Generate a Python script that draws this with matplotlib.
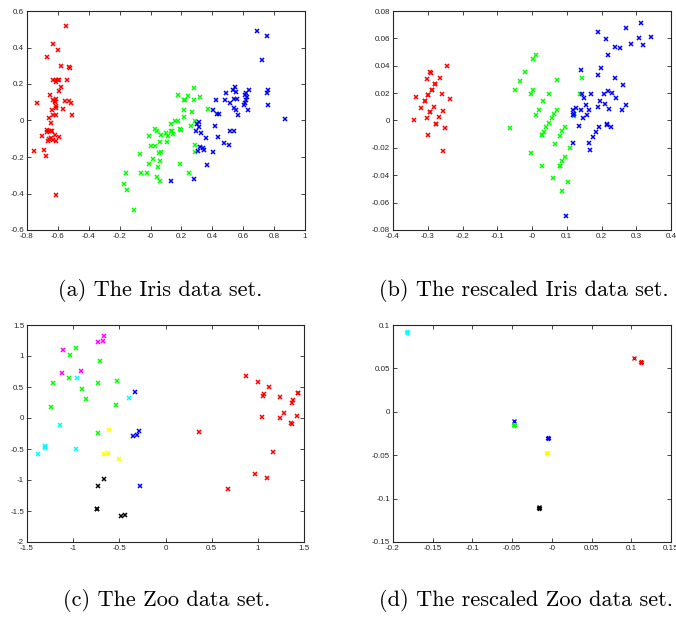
import numpy as np
import matplotlib
matplotlib.use("Agg")
import matplotlib.pyplot as plt

# ---- (a) Iris, PCA coordinates ----
iris_red_x = [-0.55, -0.63, -0.60, -0.67, -0.58, -0.53, -0.52, -0.63, -0.61, -0.60, -0.59, -0.54,
              -0.61, -0.58, -0.59, -0.65, -0.735, -0.63, -0.61, -0.62, -0.555, -0.53, -0.515,
              -0.615, -0.61, -0.64, -0.565, -0.51, -0.63, -0.61, -0.655, -0.645, -0.67, -0.657,
              -0.67, -0.635, -0.645, -0.705, -0.62, -0.59, -0.66, -0.645, -0.63, -0.61, -0.665,
              -0.69, -0.755, -0.68, -0.61, -0.62]
iris_red_y = [0.52, 0.42, 0.385, 0.35, 0.30, 0.295, 0.29, 0.22, 0.22, 0.22, 0.22, 0.22,
              0.21, 0.185, 0.16, 0.14, 0.095, 0.11, 0.12, 0.105, 0.105, 0.105, 0.095,
              0.08, 0.07, 0.055, 0.065, 0.03, 0.03, 0.03, 0.015, -0.015, -0.05, -0.055,
              -0.065, -0.055, -0.06, -0.085, -0.08, -0.09, -0.10, -0.095, -0.105, -0.11, -0.11,
              -0.16, -0.165, -0.195, -0.41, 0.10]
iris_green_x = [-0.11, -0.175, -0.155, -0.16, -0.06, -0.025, 0.04, 0.06, -0.01, 0.045, 0.06,
                0.015, -0.07, 0.055, 0.07, 0.0, 0.03, 0.06, 0.105, -0.01, 0.03, 0.04, 0.07,
                0.10, 0.11, 0.13, 0.145, 0.135, 0.16, 0.175, 0.19, 0.195, 0.19, 0.25, 0.18,
                0.215, 0.24, 0.28, 0.32, 0.28, 0.215, 0.215, 0.27, 0.37, 0.26, 0.29, 0.285,
                0.285, 0.22, 0.14]
iris_green_y = [-0.49, -0.35, -0.38, -0.29, -0.29, -0.29, -0.31, -0.33, -0.24, -0.255, -0.22,
                -0.21, -0.185, -0.18, -0.17, -0.14, -0.14, -0.12, -0.12, -0.085, -0.045, -0.055,
                -0.08, -0.07, -0.085, -0.055, -0.075, -0.02, 0.0, -0.005, -0.045, -0.05, -0.24,
                -0.29, 0.14, 0.11, 0.135, 0.18, 0.13, 0.11, 0.06, 0.02, 0.045, 0.065, -0.03,
                0.0, -0.135, -0.17, 0.11, -0.06]
iris_blue_x = [0.69, 0.752, 0.722, 0.871, 0.763, 0.752, 0.759, 0.638, 0.618, 0.612, 0.623, 0.616,
               0.612, 0.608, 0.633, 0.547, 0.532, 0.55, 0.491, 0.485, 0.541, 0.558, 0.515,
               0.424, 0.407, 0.43, 0.446, 0.543, 0.552, 0.565, 0.515, 0.543, 0.418, 0.315, 0.30,
               0.315, 0.293, 0.327, 0.358, 0.437, 0.476, 0.51, 0.321, 0.342, 0.349, 0.306, 0.407,
               0.364, 0.135, 0.28]
iris_blue_y = [0.49, 0.463, 0.333, 0.007, 0.165, 0.152, 0.085, 0.165, 0.152, 0.14, 0.127, 0.112,
               0.098, 0.085, 0.058, 0.185, 0.167, 0.158, 0.149, 0.112, 0.12, 0.12, 0.098,
               0.112, 0.058, 0.034, 0.036, 0.067, 0.058, 0.028, -0.056, -0.056, -0.03, -0.006, -0.019,
               -0.034, -0.059, -0.07, -0.096, -0.089, -0.123, -0.134, -0.143, -0.152, -0.162, -0.165,
               -0.173, -0.244, -0.331, -0.32]

# ---- (b) Iris, rescaled ----
riris_red_x = [-0.245, -0.292, -0.294, -0.265, -0.303, -0.278, -0.278, -0.287, -0.287, -0.26,
               -0.235, -0.335, -0.298, -0.298, -0.307, -0.307, -0.319, -0.283, -0.256, -0.294,
               -0.294, -0.267, -0.303, -0.34, -0.277, -0.277, -0.251, -0.298, -0.256]
riris_red_y = [0.040, 0.035, 0.0355, 0.031, 0.0305, 0.027, 0.027, 0.0225, 0.0225, 0.0193,
               0.0158, 0.017, 0.0183, 0.0183, 0.014, 0.014, 0.0094, 0.0102, 0.0071, 0.0059,
               0.0059, 0.0024, 0.0015, 0.0002, -0.0022, -0.0022, -0.0053, -0.0109, -0.0222]
riris_green_x = [0.011, 0.004, -0.019, -0.035, -0.05, 0.004, -0.004, 0.071, 0.144, 0.049, 0.033,
                 0.019, 0.012, 0.072, 0.064, 0.057, 0.049, 0.041, 0.035, 0.028, -0.062, 0.095,
                 0.087, 0.080, 0.065, 0.11, 0.095, 0.087, 0.080, 0.028, -0.004, 0.059, 0.104,
                 0.087, 0.121, 0.121, 0.138, 0.080, 0.028]
riris_green_y = [0.0482, 0.045, 0.0357, 0.029, 0.0225, 0.0226, 0.0194, 0.0298, 0.0308, 0.0197,
                 0.014, 0.0077, 0.0043, 0.0077, 0.0046, 0.0017, -0.0017, -0.0046, -0.0083,
                 -0.0108, -0.0053, -0.0046, -0.0075, -0.0111, -0.0172, -0.02, -0.0265, -0.0297,
                 -0.0329, -0.0331, -0.024, -0.0422, -0.045, -0.0514, 0.0045, 0.0035, 0.0193,
                 -0.0329, -0.0108]
riris_blue_x = [0.314, 0.343, 0.307, 0.318, 0.284, 0.270, 0.189, 0.214, 0.239, 0.253, 0.219,
                0.142, 0.199, 0.189, 0.238, 0.263, 0.171, 0.144, 0.150, 0.218, 0.229, 0.207,
                0.242, 0.197, 0.211, 0.154, 0.128, 0.189, 0.222, 0.270, 0.259, 0.118, 0.141,
                0.165, 0.122, 0.119, 0.157, 0.147, 0.136, 0.194, 0.216, 0.215, 0.228, 0.184,
                0.175, 0.164, 0.167, 0.119, 0.097]
riris_blue_y = [0.0714, 0.061, 0.060, 0.0555, 0.0562, 0.0675, 0.065, 0.0595, 0.054, 0.053, 0.0478,
                0.0372, 0.0382, 0.0335, 0.031, 0.0262, 0.0194, 0.0196, 0.0168, 0.0218, 0.020, 0.019,
                0.0168, 0.0142, 0.0123, 0.011, 0.009, 0.0095, 0.0085, 0.011, 0.0077, 0.0077, 0.0075,
                0.008, 0.0047, 0.004, 0.0037, 0.0016, -0.004, -0.0045, -0.0025, -0.0033, -0.0048,
                -0.0081, -0.0117, -0.0162, -0.0218, -0.0167, -0.070]

# ---- (c) Zoo, PCA coordinates ----
zoo_magenta_x = [-0.664, -0.675, -0.726, -1.11, -1.124, -0.92]
zoo_magenta_y = [1.33, 1.24, 1.225, 1.095, 0.72, 0.76]
zoo_green_x = [-0.967, -1.03, -0.712, -1.044, -1.219, -0.73, -0.52, -0.905, -0.858, -1.24,
               -0.54, -0.734]
zoo_green_y = [1.13, 1.02, 0.925, 0.65, 0.562, 0.558, 0.594, 0.463, 0.31, 0.183, 0.215, -0.248]
zoo_cyan_x = [-0.956, -0.394, -1.14, -1.30, -1.31, -1.31, -1.385, -0.97]
zoo_cyan_y = [0.64, 0.33, -0.106, -0.45, -0.48, -0.47, -0.585, -0.505]
zoo_blue_x = [-0.328, -0.29, -0.354, -0.31, -0.28]
zoo_blue_y = [0.42, -0.205, -0.29, -0.27, -1.10]
zoo_yellow_x = [-0.61, -0.67, -0.62, -0.504]
zoo_yellow_y = [-0.19, -0.585, -0.565, -0.654]
zoo_black_x = [-0.665, -0.73, -0.746, -0.746, -0.484, -0.44]
zoo_black_y = [-0.99, -1.10, -1.465, -1.475, -1.586, -1.564]
zoo_red_x = [0.868, 1.005, 1.125, 1.063, 1.052, 1.244, 1.435, 1.43, 1.377, 1.367, 1.049, 1.244,
             1.287, 1.42, 1.359, 1.365, 1.16, 0.965, 1.095, 0.672, 0.36]
zoo_red_y = [0.685, 0.58, 0.495, 0.39, 0.353, 0.342, 0.40, 0.41, 0.294, 0.247, 0.01, 0.005,
             0.073, 0.025, -0.08, -0.09, -0.55, -0.91, -0.96, -1.15, -0.23]

# ---- (d) Zoo, rescaled ----
rzoo_x = [-0.183, 0.104, 0.112, -0.0475, -0.048, -0.0046, -0.0063, -0.0168, -0.0168]
rzoo_y = [0.0925, 0.0624, 0.0575, -0.011, -0.0148, -0.030, -0.0475, -0.1095, -0.111]
rzoo_c = ['c', 'r', 'r', 'b', 'g', 'b', 'y', 'b', 'k']
rzoo_bold = [True, False, True, False, True, True, True, False, True]

captions = ['(a) The Iris data set.', '(b) The rescaled Iris data set.',
            '(c) The Zoo data set.', '(d) The rescaled Zoo data set.']

# MATLAB-style pure colours
COLORS = {'r': (1, 0, 0), 'g': (0, 1, 0), 'b': (0, 0, 1), 'c': (0, 1, 1),
          'm': (1, 0, 1), 'y': (1, 1, 0), 'k': (0, 0, 0)}

W, H = 676, 617
fig = plt.figure(figsize=(W / 100, H / 100), dpi=100)


def make_ax(left, top, right, bottom):
    ax = fig.add_axes([left / W, 1 - bottom / H, (right - left) / W, (bottom - top) / H])
    ax.tick_params(direction='in', top=True, right=True, length=3, width=0.6,
                   labelsize=5.8, colors='#262626', pad=2)
    for s in ax.spines.values():
        s.set_linewidth(0.8)
        s.set_color('#262626')
    return ax


def pts(ax, x, y, c, lw=1.1):
    ax.plot(x, y, 'x', color=COLORS[c], markersize=3.3, markeredgewidth=lw)


ax_a = make_ax(27, 11, 305, 230)
pts(ax_a, iris_red_x, iris_red_y, 'r')
pts(ax_a, iris_green_x, iris_green_y, 'g')
pts(ax_a, iris_blue_x, iris_blue_y, 'b')
ax_a.set_xlim(-0.8, 1)
ax_a.set_ylim(-0.6, 0.6)
ax_a.set_xticks(np.arange(-0.8, 1.01, 0.2))
ax_a.set_yticks(np.arange(-0.6, 0.61, 0.2))

ax_b = make_ax(393, 11, 671, 230)
pts(ax_b, riris_red_x, riris_red_y, 'r')
pts(ax_b, riris_green_x, riris_green_y, 'g')
pts(ax_b, riris_blue_x, riris_blue_y, 'b')
ax_b.set_xlim(-0.4, 0.4)
ax_b.set_ylim(-0.08, 0.08)
ax_b.set_xticks(np.arange(-0.4, 0.41, 0.1))
ax_b.set_yticks(np.arange(-0.08, 0.081, 0.02))

ax_c = make_ax(27, 325, 304, 542)
pts(ax_c, zoo_magenta_x, zoo_magenta_y, 'm')
pts(ax_c, zoo_green_x, zoo_green_y, 'g')
pts(ax_c, zoo_cyan_x, zoo_cyan_y, 'c')
pts(ax_c, zoo_blue_x, zoo_blue_y, 'b')
pts(ax_c, zoo_yellow_x, zoo_yellow_y, 'y')
pts(ax_c, zoo_black_x, zoo_black_y, 'k')
pts(ax_c, zoo_red_x, zoo_red_y, 'r')
ax_c.set_xlim(-1.5, 1.5)
ax_c.set_ylim(-2, 1.5)
ax_c.set_xticks(np.arange(-1.5, 1.51, 0.5))
ax_c.set_yticks(np.arange(-2, 1.51, 0.5))

ax_d = make_ax(393, 325, 671, 542)
for x, y, c, b in zip(rzoo_x, rzoo_y, rzoo_c, rzoo_bold):
    pts(ax_d, [x], [y], c, lw=1.8 if b else 1.0)
ax_d.set_xlim(-0.2, 0.15)
ax_d.set_ylim(-0.15, 0.1)
ax_d.set_xticks(np.arange(-0.2, 0.151, 0.05))
ax_d.set_yticks(np.arange(-0.15, 0.101, 0.05))

for ax in (ax_a, ax_b, ax_c, ax_d):
    ax.set_xticklabels(['%g' % round(v, 3) for v in ax.get_xticks()])
    ax.set_yticklabels(['%g' % round(v, 3) for v in ax.get_yticks()])
    for lab in ax.get_xticklabels() + ax.get_yticklabels():
        lab.set_fontfamily('Liberation Sans')
        lab.set_fontsize(5.8)

cap_pos = [(160, 290), (524, 290), (167, 601), (526, 601)]
for (cx, cy), txt in zip(cap_pos, captions):
    fig.text(cx / W, 1 - cy / H, txt, ha='center', va='center',
             fontfamily='cmr10', fontsize=16)

fig.savefig('out.png', dpi=100)
